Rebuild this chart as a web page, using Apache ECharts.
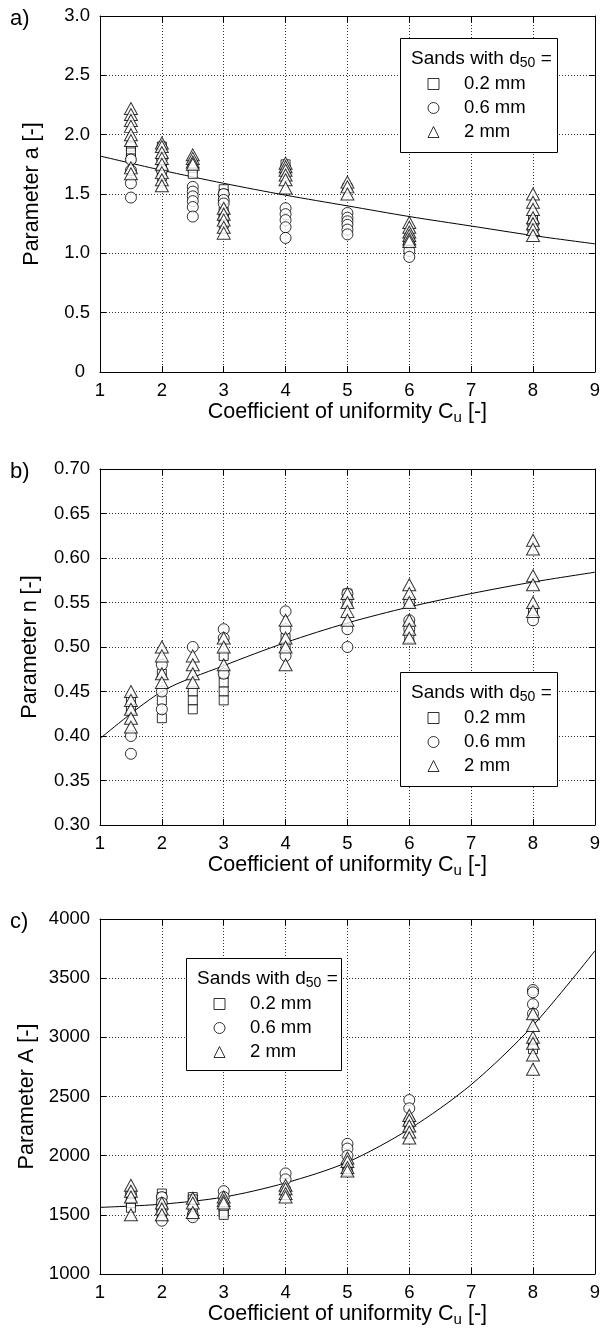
<!DOCTYPE html>
<html>
<head>
<meta charset="utf-8">
<script src="https://cdn.jsdelivr.net/npm/echarts@6/dist/echarts.min.js"></script>
<style>
  html, body { margin: 0; padding: 0; background: #fff; }
  #chart { width: 603px; height: 1336px; }
</style>
</head>
<body>
<div id="chart"></div>
<script>
// x axis: coefficient of uniformity Cu
var cuTicks = [1, 2, 3, 4, 5, 6, 7, 8, 9];
var sandNames = ['0.2 mm', '0.6 mm', '2 mm'];

// each row: [Cu, value, value, ...]
// panel a) parameter a
var aSq = [[1.5, 1.90, 1.85, 1.80], [2, 1.90, 1.78, 1.72, 1.65], [2.5, 1.76, 1.72, 1.67],
  [3, 1.54, 1.50, 1.45, 1.35, 1.30, 1.25], [4, 1.75, 1.70], [5, 1.55], [6, 1.12, 1.10], [8, 1.28, 1.22]];
var aCi = [[1.5, 1.79, 1.70, 1.59, 1.47], [2, 1.80, 1.70], [2.5, 1.56, 1.52, 1.48, 1.44, 1.39, 1.31],
  [3, 1.50, 1.45, 1.42], [4, 1.38, 1.33, 1.28, 1.22, 1.13], [5, 1.34, 1.30, 1.27, 1.24, 1.20, 1.16],
  [6, 1.08, 1.02, 0.97], [8, 1.25, 1.20]];
var aTr = [[1.5, 2.22, 2.17, 2.12, 2.07, 2.00, 1.95, 1.72, 1.67], [2, 1.93, 1.90, 1.85, 1.80, 1.75, 1.68, 1.62, 1.57],
  [2.5, 1.83, 1.80, 1.77, 1.75], [3, 1.38, 1.33, 1.28, 1.22, 1.17], [4, 1.76, 1.73, 1.70, 1.66, 1.62, 1.55],
  [5, 1.60, 1.56, 1.50], [6, 1.26, 1.22, 1.18, 1.15, 1.12, 1.10], [8, 1.50, 1.43, 1.37, 1.30, 1.25, 1.20, 1.15]];
var aFit = [1.82, 1.70, 1.59, 1.49, 1.40, 1.31, 1.23, 1.15, 1.08];

// panel b) parameter n
var bSq = [[1.5, 0.44, 0.43], [2, 0.47, 0.44, 0.42], [2.5, 0.45, 0.44, 0.43], [3, 0.49, 0.47, 0.46, 0.45, 0.44],
  [4, 0.51, 0.50], [5, 0.56, 0.55], [6, 0.55, 0.51], [8, 0.54]];
var bCi = [[1.5, 0.40, 0.38], [2, 0.48, 0.45, 0.43], [2.5, 0.50], [3, 0.52, 0.51, 0.47], [4, 0.54, 0.52, 0.49],
  [5, 0.56, 0.52, 0.50], [6, 0.55, 0.53, 0.52], [8, 0.53]];
var bTr = [[1.5, 0.45, 0.44, 0.43, 0.42, 0.41], [2, 0.50, 0.49, 0.47, 0.46], [2.5, 0.49, 0.48, 0.47, 0.46],
  [3, 0.51, 0.50, 0.48], [4, 0.53, 0.51, 0.50, 0.48], [5, 0.56, 0.55, 0.54, 0.53],
  [6, 0.57, 0.56, 0.55, 0.53, 0.52, 0.51], [8, 0.62, 0.61, 0.58, 0.57, 0.55, 0.54]];
var bFit = [0.397, 0.450, 0.479, 0.505, 0.527, 0.545, 0.560, 0.573, 0.584];

// panel c) parameter A
var cSq = [[1.5, 1650, 1600, 1560], [2, 1680, 1650, 1600, 1550, 1500], [2.5, 1650, 1630, 1550],
  [3, 1560, 1520, 1500], [4, 1700], [5, 1900, 1870], [6, 2280, 2250], [8, 2950, 2900]];
var cCi = [[1.5, 1680], [2, 1650, 1600, 1550, 1450], [2.5, 1500, 1480], [3, 1700, 1650], [4, 1850, 1800],
  [5, 2100, 2060, 2000], [6, 2470, 2400], [8, 3400, 3380, 3280, 3200]];
var cTr = [[1.5, 1750, 1700, 1650, 1500], [2, 1600, 1550, 1500], [2.5, 1640, 1600, 1520], [3, 1650, 1620, 1600],
  [4, 1750, 1720, 1680, 1650], [5, 1980, 1950, 1900, 1870], [6, 2340, 2300, 2250, 2200, 2150],
  [8, 3200, 3100, 3000, 2950, 2850, 2730]];
var cFit = [1563, 1590, 1650, 1770, 1945, 2225, 2600, 3100, 3730];

var FONT = 'Liberation Sans, Arial, sans-serif';

function flat(rows) {
  var out = [];
  rows.forEach(function (r) {
    for (var i = 1; i < r.length; i++) out.push([r[0], r[i]]);
  });
  return out;
}

var panels = [
  { top: 16, height: 356, letter: 'a)', yName: 'Parameter a [-]', nameGap: 57,
    min: 0, max: 3, interval: 0.5,
    fmt: function (v) { return v === 0 ? '{z|0}' : v.toFixed(1); },
    sets: [aSq, aCi, aTr], fit: aFit, box: [401, 39, 157, 114] },
  { top: 469, height: 356, letter: 'b)', yName: 'Parameter n [-]', nameGap: 59,
    min: 0.30, max: 0.70, interval: 0.05,
    fmt: function (v) { return v.toFixed(2); },
    sets: [bSq, bCi, bTr], fit: bFit, box: [401, 673, 157, 114] },
  { top: 919, height: 355, letter: 'c)', yName: 'Parameter A [-]', nameGap: 60,
    min: 1000, max: 4000, interval: 500,
    fmt: function (v) { return String(v); },
    sets: [cSq, cCi, cTr], fit: cFit, box: [187, 959, 155, 112] }
];

var symbols = [
  { symbol: 'rect', size: 9 },
  { symbol: 'circle', size: 11 },
  { symbol: 'triangle', size: [13, 12] }
];

var grid = [], xAxis = [], yAxis = [], series = [], legend = [], graphic = [];
var markStyle = { color: '#fff', borderColor: '#000', borderWidth: 1 };

panels.forEach(function (p, i) {
  grid.push({ left: 100, right: 5, top: p.top, height: p.height, containLabel: false });

  var xBase = {
    type: 'value', gridIndex: i, min: 1, max: 9, interval: 1,
    axisLine: { show: true, onZero: false, lineStyle: { color: '#000', width: 1 } },
    axisTick: { show: true, inside: true, length: 6, lineStyle: { color: '#000' } }
  };
  xAxis.push(Object.assign({}, xBase, {
    position: 'bottom',
    name: '{t|Coefficient of uniformity C}{s|u}{t| [-]}',
    nameLocation: 'middle', nameGap: 28,
    nameTextStyle: {
      rich: {
        t: { fontSize: 21.5, fontFamily: FONT, color: '#000' },
        s: { fontSize: 15, fontFamily: FONT, color: '#000', padding: [10, 0, 0, 0] }
      }
    },
    axisLabel: { margin: 9, fontSize: 18.5, fontFamily: FONT, color: '#000' },
    splitLine: { show: true, lineStyle: { color: '#333', width: 1, type: [1, 2] } }
  }));
  xAxis.push(Object.assign({}, xBase, {
    position: 'top', axisLabel: { show: false }, splitLine: { show: false }
  }));

  var yBase = {
    type: 'value', gridIndex: i, min: p.min, max: p.max, interval: p.interval,
    axisLine: { show: true, onZero: false, lineStyle: { color: '#000', width: 1 } },
    axisTick: { show: true, inside: true, length: 6, lineStyle: { color: '#000' } }
  };
  yAxis.push(Object.assign({}, yBase, {
    position: 'left',
    name: p.yName, nameLocation: 'middle', nameGap: p.nameGap,
    nameTextStyle: { fontSize: 21.5, fontFamily: FONT, color: '#000' },
    axisLabel: {
      margin: 10, fontSize: 18.5, fontFamily: FONT, color: '#000', formatter: p.fmt,
      rich: { z: { fontSize: 18.5, fontFamily: FONT, color: '#000', padding: [0, 5, 0, 0] } }
    },
    splitLine: { show: true, lineStyle: { color: '#333', width: 1, type: [1, 2] } }
  }));
  yAxis.push(Object.assign({}, yBase, {
    position: 'right', axisLabel: { show: false }, splitLine: { show: false }
  }));

  // fitted curve
  series.push({
    name: 'fit ' + p.letter, type: 'line', xAxisIndex: 2 * i, yAxisIndex: 2 * i,
    data: cuTicks.map(function (c, k) { return [c, p.fit[k]]; }),
    smooth: 0.3, showSymbol: false, symbol: 'none', silent: true,
    lineStyle: { color: '#000', width: 1 }, z: 1
  });

  p.sets.forEach(function (rows, k) {
    series.push({
      name: sandNames[k], type: 'scatter', xAxisIndex: 2 * i, yAxisIndex: 2 * i,
      data: flat(rows), symbol: symbols[k].symbol, symbolSize: symbols[k].size,
      itemStyle: markStyle, z: 2 + k
    });
  });

  var b = p.box;
  legend.push({
    orient: 'vertical', left: b[0] + 26.5, top: b[1] + 35.5, padding: 0,
    itemWidth: 11, itemHeight: 11, itemGap: 5, selectedMode: false, z: 6,
    data: [
      { name: sandNames[0], icon: 'rect' },
      { name: sandNames[1], icon: 'circle' },
      { name: sandNames[2], icon: 'triangle' }
    ],
    itemStyle: { color: '#fff', borderColor: '#000', borderWidth: 1 },
    textStyle: { fontSize: 18.5, fontFamily: FONT, color: '#000', padding: [0, 0, 0, 20] }
  });

  graphic.push({
    type: 'rect', z: 5,
    shape: { x: b[0] - 0.5, y: b[1] - 0.5, width: b[2], height: b[3] },
    style: { fill: '#fff', stroke: '#000', lineWidth: 1 }
  });
  graphic.push({
    type: 'text', z: 7, x: b[0] + 10, y: b[1] + 20,
    style: {
      text: '{t|Sands with d}{s|50}{t| =}',
      verticalAlign: 'middle',
      rich: {
        t: { fontSize: 19, fontFamily: FONT, fill: '#000' },
        s: { fontSize: 14, fontFamily: FONT, fill: '#000', padding: [9, 0, 0, 0] }
      }
    }
  });
  graphic.push({
    type: 'text', z: 7, x: 10, y: p.top + 3,
    style: { text: p.letter, fontSize: 22, fontFamily: FONT, fill: '#000', verticalAlign: 'middle' }
  });
});

var myChart = echarts.init(document.getElementById('chart'), null, { renderer: 'canvas' });
var option = {
  backgroundColor: '#fff',
  animation: false,
  grid: grid,
  xAxis: xAxis,
  yAxis: yAxis,
  legend: legend,
  graphic: { elements: graphic },
  series: series
};
myChart.setOption(option);
</script>
</body>
</html>
